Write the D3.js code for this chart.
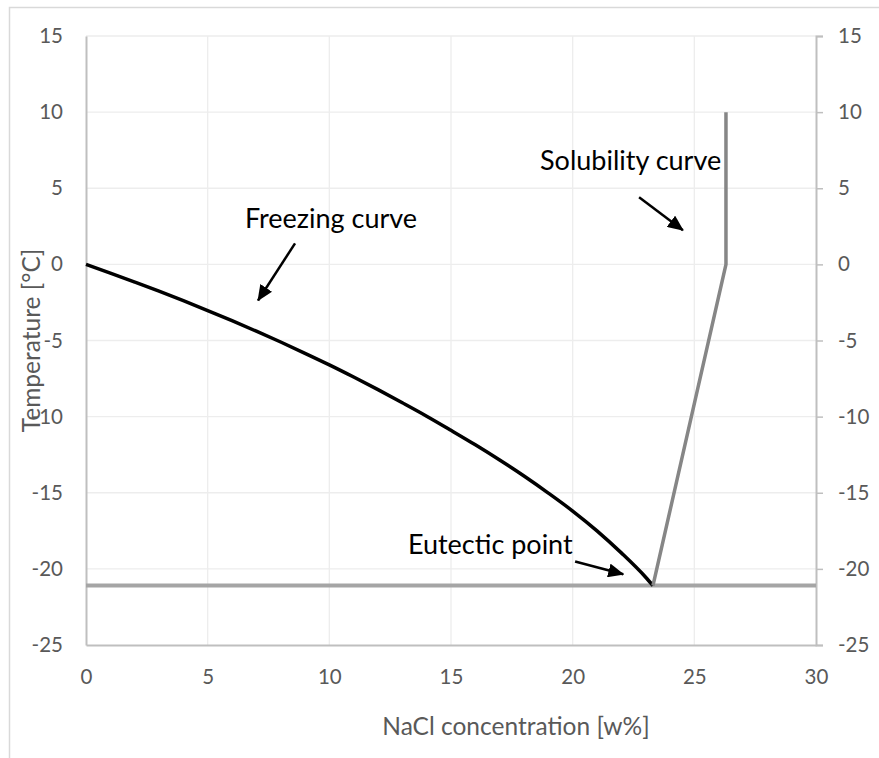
<!DOCTYPE html>
<html>
<head>
<meta charset="utf-8">
<script src="https://cdn.jsdelivr.net/npm/d3@7"></script>
<style>
  html, body { margin: 0; padding: 0; background: #ffffff; }
  svg { display: block; font-family: Lato, "Open Sans", sans-serif; }
</style>
</head>
<body>
<svg id="chart" width="879" height="758"></svg>
<script>
// ---- data ----
const freezeX = [0, 1, 2, 3, 4, 5, 6, 7, 8, 9, 10, 11, 12, 13, 14, 15, 16, 17, 18, 19, 20, 21, 22, 23, 23.3];
const freezeY = [0, -0.57, -1.16, -1.76, -2.38, -3.03, -3.70, -4.39, -5.10, -5.84, -6.60, -7.40, -8.23, -9.09, -9.97, -10.90, -11.85, -12.85, -13.90, -15.02, -16.20, -17.50, -18.95, -20.55, -21.1];
const solubX = [23.3, 26.3, 26.3];
const solubY = [-21.1, 0, 10];
const eutecticX = [0, 30];
const eutecticY = [-21.1, -21.1];
const xTicks = [0, 5, 10, 15, 20, 25, 30];
const yTicks = [-25, -20, -15, -10, -5, 0, 5, 10, 15];
const xTitle = "NaCl concentration [w%]";
const yTitle = "Temperature [°C]";
// annotation labels with arrow start/end in data units
const annoText = ["Freezing curve", "Solubility curve", "Eutectic point"];
const annoTextX = [6.53, 18.66, 13.23];
const annoTextY = [2.37, 6.18, -19.01];
const arrowX1 = [8.59, 22.73, 20.10];
const arrowY1 = [1.38, 4.41, -19.52];
const arrowX2 = [7.07, 24.53, 22.08];
const arrowY2 = [-2.37, 2.24, -20.35];

(function () {
// ---- layout ----
const svg = d3.select("#chart");
const pLeft = 86, pRight = 816, pTop = 36, pBottom = 645;
const x = d3.scaleLinear().domain([0, 30]).range([pLeft, pRight]);
const y = d3.scaleLinear().domain([-25, 15]).range([pBottom, pTop]);

// outer chart border
svg.append("rect")
  .attr("x", 9.5).attr("y", 7.5).attr("width", 900).attr("height", 800)
  .attr("fill", "none").attr("stroke", "#d9d9d9").attr("stroke-width", 1.5);

// gridlines
const grid = svg.append("g");
grid.selectAll("line.h").data(yTicks.filter(d => d !== -25)).enter().append("line")
  .attr("class", "h")
  .attr("x1", pLeft).attr("x2", pRight)
  .attr("y1", d => y(d)).attr("y2", d => y(d))
  .attr("stroke", "#ededed").attr("stroke-width", 1.3);
grid.selectAll("line.v").data(xTicks.filter(d => d !== 0 && d !== 30)).enter().append("line")
  .attr("class", "v")
  .attr("y1", pTop).attr("y2", pBottom)
  .attr("x1", d => x(d)).attr("x2", d => x(d))
  .attr("stroke", "#ededed").attr("stroke-width", 1.3);

// axes
const axisColor = "#bfbfbf";
const labelColor = "#595959";
const tickFont = "20.5px";

const gBottom = svg.append("g").attr("transform", `translate(0,${pBottom})`)
  .call(d3.axisBottom(x).tickValues(xTicks).tickSize(0).tickPadding(24).tickFormat(d3.format("d")));
const gLeft = svg.append("g").attr("transform", `translate(${pLeft},0)`)
  .call(d3.axisLeft(y).tickValues(yTicks).tickSize(0).tickPadding(23).tickFormat(d3.format("d")));
const gRight = svg.append("g").attr("transform", `translate(${pRight},0)`)
  .call(d3.axisRight(y).tickValues(yTicks).tickSize(7).tickPadding(15).tickFormat(d3.format("d")));

[gBottom, gLeft, gRight].forEach(g => {
  g.select(".domain").attr("stroke", axisColor).attr("stroke-width", 2);
  g.selectAll(".tick line").attr("stroke", axisColor).attr("stroke-width", 1.5);
  g.selectAll(".tick text").attr("fill", labelColor).style("font-size", tickFont)
    .style("font-family", "Lato, 'Open Sans', sans-serif");
});
gLeft.selectAll(".tick text").text(d => d < 0 ? "-" + Math.abs(d) : d);
gRight.selectAll(".tick text").text(d => d < 0 ? "-" + Math.abs(d) : d);

// series lines
const line = d3.line().x(d => x(d[0])).y(d => y(d[1]));
svg.append("path")
  .datum(eutecticX.map((v, i) => [v, eutecticY[i]]))
  .attr("d", line).attr("fill", "none").attr("stroke", "#a5a5a5").attr("stroke-width", 4);
svg.append("path")
  .datum(freezeX.map((v, i) => [v, freezeY[i]]))
  .attr("d", d3.line().x(d => x(d[0])).y(d => y(d[1])).curve(d3.curveMonotoneX))
  .attr("fill", "none").attr("stroke", "#000000").attr("stroke-width", 3.5)
  .attr("stroke-linejoin", "round");
svg.append("path")
  .datum(solubX.map((v, i) => [v, solubY[i]]))
  .attr("d", line).attr("fill", "none").attr("stroke", "#868686").attr("stroke-width", 3.5)
  .attr("stroke-linejoin", "round");

// arrow marker
svg.append("defs").append("marker")
  .attr("id", "arrowhead")
  .attr("markerUnits", "userSpaceOnUse")
  .attr("viewBox", "0 0 16 14")
  .attr("refX", 15).attr("refY", 7)
  .attr("markerWidth", 16).attr("markerHeight", 14)
  .attr("orient", "auto")
  .append("path").attr("d", "M0,0 L16,7 L0,14 Z").attr("fill", "#000");

// annotations
annoText.forEach((t, i) => {
  svg.append("text")
    .attr("x", x(annoTextX[i])).attr("y", y(annoTextY[i]))
    .attr("fill", "#000").style("font-size", "27px")
    .text(t);
  svg.append("line")
    .attr("x1", x(arrowX1[i])).attr("y1", y(arrowY1[i]))
    .attr("x2", x(arrowX2[i])).attr("y2", y(arrowY2[i]))
    .attr("stroke", "#000").attr("stroke-width", 2.5)
    .attr("marker-end", "url(#arrowhead)");
});

// axis titles
svg.append("text")
  .attr("x", 516).attr("y", 735)
  .attr("text-anchor", "middle").attr("fill", labelColor)
  .style("font-size", "24.5px").text(xTitle);
svg.append("text")
  .attr("transform", `translate(40,${(pTop + pBottom) / 2}) rotate(-90)`)
  .attr("text-anchor", "middle").attr("fill", labelColor)
  .style("font-size", "24.5px").text(yTitle);
})();
</script>
</body>
</html>
